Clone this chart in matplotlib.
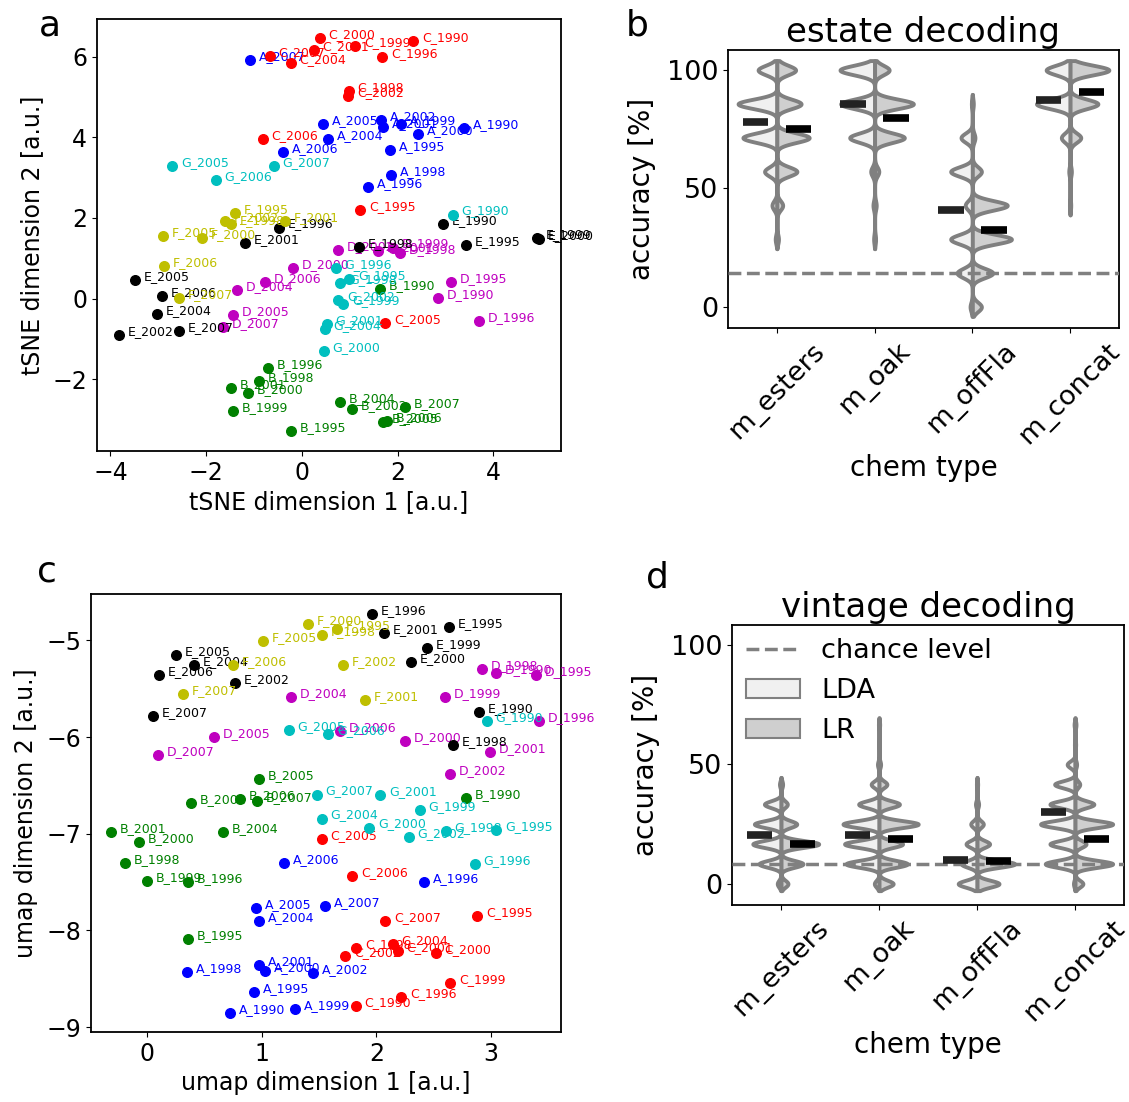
import numpy as np
import matplotlib.pyplot as plt
from matplotlib.lines import Line2D
from matplotlib.patches import Patch

# ---------------- embedding data ----------------
years = ['1990', '1995', '1996', '1998', '1999', '2000', '2001', '2002',
         '2004', '2005', '2006', '2007']
f_years = ['1995', '1998', '2000', '2001', '2002', '2005', '2006', '2007']
estates = ['A', 'B', 'C', 'D', 'E', 'F', 'G']
estate_colors = {'A': 'b', 'B': 'g', 'C': 'r', 'D': 'm', 'E': 'k', 'F': 'y', 'G': 'c'}

tsne_x = {
    'A': [3.389, 1.835, 1.374, 1.856, 2.071, 2.421, 1.688, 1.653, 0.544, 0.446, -0.391, -1.088],
    'B': [1.632, -0.230, -0.718, -0.900, -1.444, -1.130, -1.485, 1.052, 0.795, 1.701, 1.772, 2.161],
    'C': [2.322, 1.220, 1.674, 0.977, 1.109, 0.377, 0.251, 0.962, -0.236, 1.736, -0.816, -0.669],
    'D': [2.845, 3.117, 3.688, 2.050, 1.910, -0.182, 1.596, 0.747, -1.360, -1.437, -0.780, -1.638],
    'E': [2.956, 3.425, -0.481, 1.199, 4.916, 4.944, -1.186, -3.822, -3.033, -3.487, -2.929, -2.573],
    'F': [-1.395, -1.471, -2.077, -0.356, -1.617, -2.902, -2.887, -2.567],
    'G': [3.153, 0.990, 0.705, 0.795, 0.864, 0.460, 0.517, 0.759, 0.481, -2.713, -1.799, -0.592],
}
tsne_y = {
    'A': [4.218, 3.687, 2.762, 3.060, 4.333, 4.077, 4.243, 4.424, 3.945, 4.332, 3.638, 5.921],
    'B': [0.238, -3.293, -1.722, -2.045, -2.797, -2.342, -2.218, -2.730, -2.573, -3.062, -3.045, -2.690],
    'C': [6.392, 2.199, 5.995, 5.144, 6.261, 6.452, 6.161, 5.020, 5.831, -0.605, 3.945, 6.020],
    'D': [0.025, 0.404, -0.546, 1.132, 1.266, 0.752, 1.174, 1.216, 0.206, -0.407, 0.404, -0.712],
    'E': [1.844, 1.330, 1.762, 1.280, 1.496, 1.479, 1.372, -0.903, -0.390, 0.471, 0.057, -0.794],
    'F': [2.124, 1.851, 1.504, 1.918, 1.918, 1.546, 0.809, 0.025],
    'G': [2.084, 0.496, 0.769, 0.387, -0.124, -1.308, -0.620, -0.025, -0.744, 3.283, 2.943, 3.283],
}

umap_x = {
    'A': [0.720, 0.929, 2.414, 0.347, 1.293, 1.025, 0.976, 1.450, 0.976, 0.949, 1.191, 1.549],
    'B': [2.781, 0.353, 0.355, -0.197, 0.000, -0.070, -0.314, 0.382, 0.659, 0.978, 0.812, 0.955],
    'C': [1.820, 2.879, 2.216, 1.823, 2.644, 2.519, 2.187, 1.727, 2.143, 1.523, 1.790, 2.076],
    'D': [3.045, 3.392, 3.418, 2.921, 2.594, 2.251, 2.993, 2.638, 1.252, 0.580, 1.683, 0.093],
    'E': [2.897, 2.629, 1.960, 2.667, 2.445, 2.303, 2.070, 0.766, 0.410, 0.251, 0.105, 0.050],
    'F': [1.654, 1.523, 1.406, 1.904, 1.712, 1.013, 0.751, 0.309],
    'G': [2.961, 3.043, 2.856, 2.603, 2.379, 1.936, 2.032, 2.283, 1.523, 1.235, 1.581, 1.479],
}
umap_y = {
    'A': [-8.850, -8.633, -7.497, -8.427, -8.812, -8.423, -8.361, -8.437, -7.900, -7.772, -7.307, -7.745],
    'B': [-6.635, -8.092, -7.503, -7.307, -7.490, -7.084, -6.980, -6.684, -6.980, -6.436, -6.643, -6.663],
    'C': [-8.778, -7.848, -8.691, -8.185, -8.543, -8.237, -8.213, -8.264, -8.140, -7.056, -7.438, -7.900],
    'D': [-5.338, -5.362, -5.837, -5.292, -5.586, -6.040, -6.150, -6.381, -5.586, -5.995, -5.937, -6.185],
    'E': [-5.744, -4.863, -4.731, -6.085, -5.075, -5.220, -4.928, -5.441, -5.255, -5.148, -5.354, -5.785],
    'F': [-4.879, -4.948, -4.835, -5.620, -5.258, -5.010, -5.251, -5.551],
    'G': [-5.834, -6.963, -7.317, -6.973, -6.756, -6.935, -6.601, -7.032, -6.842, -5.923, -5.971, -6.594],
}

# ---------------- decoding data ----------------
chem_types = ['m_esters', 'm_oak', 'm_offFla', 'm_concat']

# estate decoding: accuracy levels k/7, counts per level
estate_levels = [0, 14.29, 28.57, 42.86, 57.14, 71.43, 85.71, 100]
estate_lda = [[0, 0, 5, 15, 38, 105, 120, 58],
              [0, 0, 3, 5, 12, 77, 105, 107],
              [7, 47, 67, 22, 67, 35, 3, 0],
              [0, 0, 0, 2, 4, 27, 104, 74]]
estate_lr = [[0, 0, 5, 18, 62, 100, 75, 58],
             [0, 0, 3, 5, 13, 92, 120, 45],
             [28, 63, 121, 108, 28, 8, 3, 0],
             [0, 0, 0, 2, 4, 33, 86, 120]]
estate_mean_lda = [78.0, 85.6, 41.0, 87.4]
estate_mean_lr = [74.9, 79.8, 32.3, 90.6]
estate_chance = 100 / 7

# vintage decoding: accuracy levels k/12
vintage_levels = [0, 8.33, 16.67, 25, 33.33, 41.67, 50, 58.33, 66.67]
vintage_lda = [[12, 70, 90, 85, 53, 5, 0, 0, 0],
               [15, 105, 110, 115, 65, 25, 5, 1, 2],
               [60, 50, 35, 20, 5, 2, 0, 0, 0],
               [5, 95, 80, 110, 80, 65, 25, 2, 3]]
vintage_lr = [[22, 70, 120, 50, 20, 5, 0, 0, 0],
              [45, 90, 75, 125, 65, 25, 5, 1, 2],
              [70, 120, 40, 20, 5, 2, 0, 0, 0],
              [25, 120, 35, 120, 60, 15, 5, 2, 3]]
vintage_mean_lda = [20.3, 20.3, 10.1, 30.1]
vintage_mean_lr = [16.5, 18.9, 9.5, 18.9]
vintage_chance = 100 / 12

LDA_FC = '#f0f0f0'
LR_FC = '#cfcfcf'
EDGE = '#808080'


def embedding(ax, xs, ys, xlabel, ylabel):
    for est in estates:
        yrs = f_years if est == 'F' else years
        col = estate_colors[est]
        ax.scatter(xs[est], ys[est], s=48, color=col, zorder=3)
        for yr, x, y in zip(yrs, xs[est], ys[est]):
            ax.annotate(est + '_' + yr, (x, y), xytext=(6.3, 0),
                        textcoords='offset points', color=col, fontsize=9,
                        zorder=3)
    ax.set_xlabel(xlabel, fontsize=17)
    ax.set_ylabel(ylabel, fontsize=17, labelpad=6)
    ax.tick_params(labelsize=17)


def half_profile(levels, counts, sigma):
    lv = np.array(levels, float)
    c = np.array(counts, float)
    nz = lv[c > 0]
    y = np.linspace(nz.min() - 2 * sigma, nz.max() + 2 * sigma, 800)
    d = (c[None, :] * np.exp(-0.5 * ((y[:, None] - lv[None, :]) / sigma) ** 2)).sum(1)
    return y, d


def violins(ax, levels, lda, lr, m_lda, m_lr, chance, sigma, title):
    profs = [(half_profile(levels, a, sigma), half_profile(levels, b, sigma))
             for a, b in zip(lda, lr)]
    dmax = max(max(p[0][1].max(), p[1][1].max()) for p in profs)
    sc = 0.4 / dmax
    for i, ((y1, d1), (y2, d2)) in enumerate(profs):
        ax.fill_betweenx(y1, i - d1 * sc, i, facecolor=LDA_FC, edgecolor=EDGE,
                         lw=2.8, zorder=2)
        ax.fill_betweenx(y2, i, i + d2 * sc, facecolor=LR_FC, edgecolor=EDGE,
                         lw=2.8, zorder=2)
        ax.hlines(m_lda[i], i - 0.35, i - 0.09, color='#222222', lw=5.5, zorder=4)
        ax.hlines(m_lr[i], i + 0.09, i + 0.35, color='black', lw=5.5, zorder=4)
    ax.axhline(chance, color=EDGE, ls='--', lw=2.5, zorder=3)
    ax.set_xlim(-0.5, 3.5)
    ax.set_ylim(-8.9, 108.5)
    ax.set_yticks([0, 50, 100])
    ax.set_xticks(range(4))
    ax.set_xticklabels(chem_types, rotation=45)
    ax.tick_params(labelsize=19.5)
    ax.set_xlabel('chem type', fontsize=20)
    ax.set_ylabel('accuracy [%]', fontsize=20, labelpad=8)
    ax.set_title(title, fontsize=24.5)


fig = plt.figure(figsize=(11.29, 11.02), dpi=100)
ax_a = fig.add_axes([0.0859, 0.5907, 0.4110, 0.3920])
ax_b = fig.add_axes([0.6448, 0.7024, 0.3463, 0.2523])
ax_c = fig.add_axes([0.0806, 0.0635, 0.4163, 0.3975])
ax_d = fig.add_axes([0.6484, 0.1788, 0.3472, 0.2541])

embedding(ax_a, tsne_x, tsne_y, 'tSNE dimension 1 [a.u.]', 'tSNE dimension 2 [a.u.]')
ax_a.set_xlim(-4.28, 5.41)
ax_a.set_ylim(-3.78, 6.93)
ax_a.set_xticks([-4, -2, 0, 2, 4])

embedding(ax_c, umap_x, umap_y, 'umap dimension 1 [a.u.]', 'umap dimension 2 [a.u.]')
ax_c.set_xlim(-0.49, 3.61)
ax_c.set_ylim(-9.05, -4.52)
ax_c.set_xticks([0, 1, 2, 3])
ax_c.set_yticks([-9, -8, -7, -6, -5])

violins(ax_b, estate_levels, estate_lda, estate_lr, estate_mean_lda,
        estate_mean_lr, estate_chance, 2.0, 'estate decoding')
violins(ax_d, vintage_levels, vintage_lda, vintage_lr, vintage_mean_lda,
        vintage_mean_lr, vintage_chance, 1.45, 'vintage decoding')

handles = [Line2D([], [], color=EDGE, ls='--', lw=2.5),
           Patch(facecolor=LDA_FC, edgecolor=EDGE, lw=1.5),
           Patch(facecolor=LR_FC, edgecolor=EDGE, lw=1.5)]
ax_d.legend(handles, ['chance level', 'LDA', 'LR'], loc='upper left',
            frameon=False, fontsize=19.5, borderaxespad=0.1)

for ax in [ax_a, ax_b, ax_c, ax_d]:
    for sp in ax.spines.values():
        sp.set_linewidth(1.3)

fig.text(0.044, 0.977, 'a', fontsize=26, ha='center', va='center')
fig.text(0.564, 0.977, 'b', fontsize=26, ha='center', va='center')
fig.text(0.042, 0.481, 'c', fontsize=26, ha='center', va='center')
fig.text(0.582, 0.476, 'd', fontsize=26, ha='center', va='center')

fig.savefig('out.png', dpi=100)
